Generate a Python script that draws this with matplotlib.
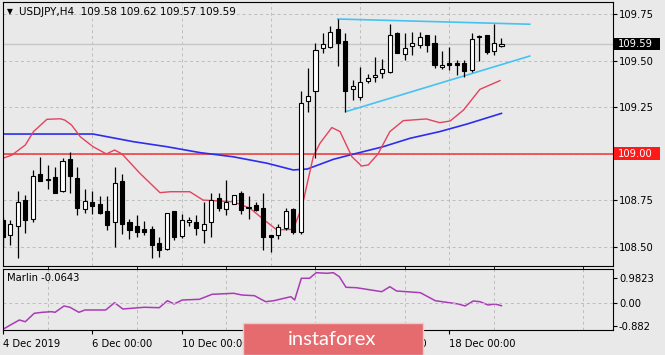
import matplotlib
matplotlib.use("Agg")
import matplotlib.pyplot as plt
import matplotlib.transforms as mtransforms
from matplotlib.patches import Rectangle

# USDJPY H4 candles (open, high, low, close), one per 4h bar from 4 Dec 2019
opens = [108.643, 108.560, 108.610, 108.750, 108.648, 108.890, 108.860, 108.873, 108.800, 108.970,
         108.870, 108.700, 108.742, 108.730, 108.693, 108.630, 108.850, 108.630, 108.610, 108.593,
         108.593, 108.520, 108.487, 108.690, 108.559, 108.630, 108.630, 108.590, 108.630, 108.760,
         108.702, 108.730, 108.790, 108.710, 108.724, 108.710, 108.560, 108.563, 108.600, 108.700,
         108.580, 109.284, 109.338, 109.566, 109.574, 109.668, 109.607, 109.345, 109.306, 109.392,
         109.410, 109.435, 109.440, 109.650, 109.535, 109.578, 109.583, 109.637, 109.596, 109.464,
         109.485, 109.485, 109.485, 109.449, 109.625, 109.637, 109.553, 109.580]
highs = [108.660, 108.645, 108.800, 108.777, 108.912, 108.980, 108.940, 108.930, 108.976, 109.010,
         108.930, 108.810, 108.800, 108.770, 108.770, 108.930, 108.890, 108.650, 108.670, 108.640,
         108.610, 108.550, 108.680, 108.690, 108.674, 108.660, 108.670, 108.740, 108.790, 108.790,
         108.860, 108.780, 108.800, 108.770, 108.740, 108.790, 108.560, 108.620, 108.710, 108.710,
         109.336, 109.460, 109.596, 109.646, 109.686, 109.723, 109.646, 109.395, 109.467, 109.428,
         109.517, 109.506, 109.696, 109.655, 109.646, 109.655, 109.655, 109.637, 109.637, 109.553,
         109.574, 109.503, 109.503, 109.646, 109.637, 109.637, 109.696, 109.620]
lows = [108.500, 108.510, 108.440, 108.573, 108.632, 108.850, 108.810, 108.790, 108.795, 108.790,
        108.670, 108.680, 108.675, 108.675, 108.590, 108.500, 108.570, 108.540, 108.550, 108.560,
        108.440, 108.446, 108.482, 108.536, 108.545, 108.610, 108.560, 108.520, 108.550, 108.690,
        108.670, 108.730, 108.675, 108.650, 108.690, 108.480, 108.470, 108.540, 108.590, 108.570,
        108.570, 109.225, 108.975, 109.540, 109.566, 109.470, 109.225, 109.290, 109.288, 109.378,
        109.386, 109.404, 109.435, 109.542, 109.503, 109.530, 109.566, 109.547, 109.461, 109.453,
        109.449, 109.422, 109.413, 109.440, 109.500, 109.536, 109.530, 109.570]
closes = [108.553, 108.620, 108.740, 108.643, 108.880, 108.850, 108.862, 108.790, 108.960, 108.880,
          108.710, 108.746, 108.718, 108.680, 108.616, 108.840, 108.620, 108.590, 108.580, 108.580,
          108.510, 108.480, 108.680, 108.550, 108.643, 108.643, 108.600, 108.620, 108.750, 108.710,
          108.740, 108.780, 108.697, 108.712, 108.697, 108.550, 108.550, 108.607, 108.690, 108.580,
          109.273, 109.310, 109.556, 109.587, 109.655, 109.596, 109.336, 109.363, 109.386, 109.404,
          109.420, 109.455, 109.637, 109.542, 109.566, 109.592, 109.625, 109.583, 109.474, 109.476,
          109.476, 109.476, 109.444, 109.614, 109.630, 109.547, 109.592, 109.590]

# moving averages, read at bar positions
ma_fast_x = [0, 1.2, 3.0, 4.1, 5.9, 7.7, 8.3, 9.2, 10.4, 12.1, 13.9, 15.0, 16.0, 18.4, 21.1, 22.5,
             25.1, 26.9, 31.0, 33.2, 35.4, 36.8, 39.0, 40.2, 41.7, 42.6, 44.2, 45.3, 46.9, 48.2,
             49.1, 50.4, 52.0, 53.8, 56.9, 58.7, 60.1, 61.9, 64.1, 66.8]
ma_fast = [108.975, 108.992, 109.046, 109.118, 109.184, 109.187, 109.180, 109.154, 109.090, 109.037,
           108.998, 109.019, 108.998, 108.894, 108.790, 108.795, 108.795, 108.750, 108.741, 108.706,
           108.634, 108.590, 108.593, 108.715, 108.983, 109.055, 109.140, 109.118, 108.983, 108.933,
           108.939, 108.998, 109.118, 109.177, 109.186, 109.166, 109.175, 109.234, 109.345, 109.392]
ma_slow_x = [-0.4, 7.7, 12.1, 17.5, 22.0, 26.5, 30.9, 35.5, 39.0, 40.9, 44.4, 46.6, 51.1, 54.7,
             58.7, 62.4, 67.0]
ma_slow = [109.105, 109.105, 109.105, 109.064, 109.037, 109.005, 108.983, 108.948, 108.912, 108.917,
           108.969, 108.992, 109.037, 109.082, 109.118, 109.159, 109.216]

# Marlin oscillator
marlin_x = [0, 1.0, 2.2, 3.0, 4.2, 5.3, 6.5, 7.0, 8.2, 9.0, 10.2, 11.0, 13.8, 15.0, 16.1, 19.0,
            21.0, 22.1, 23.0, 24.1, 26.4, 28.1, 31.0, 32.1, 33.8, 35.3, 36.4, 38.7, 39.2, 40.1,
            41.2, 42.1, 43.5, 44.4, 45.2, 46.1, 47.5, 50.9, 52.0, 52.9, 56.1, 58.1, 61.2, 62.1,
            63.2, 64.1, 65.2, 66.1, 67.0]
marlin = [-1.010, -0.844, -0.651, -0.717, -0.392, -0.354, -0.330, -0.354, -0.110, -0.160, -0.354,
          -0.265, -0.265, 0.017, -0.226, -0.160, -0.176, 0.094, -0.033, 0.121, 0.148, 0.341, 0.380,
          0.314, 0.287, 0.056, 0.094, 0.249, 0.121, 0.959, 0.959, 1.175, 1.152, 1.175, 1.021, 0.612,
          0.596, 0.442, 0.635, 0.469, 0.403, 0.094, -0.033, -0.110, 0.083, 0.056, -0.072, -0.033,
          -0.099]

# triangle trend lines (bar, price)
upper_line = ([45.0, 70.8], [109.723, 109.695])
lower_line = ([46.06, 70.8], [109.225, 109.524])

level = 109.00
bid = 109.59
price_ticks = [108.50, 108.75, 109.00, 109.25, 109.50, 109.75]
date_ticks = [0, 12, 24, 36, 48, 60]
# the 12 Dec label sits fully under the watermark, 16 Dec only shows its last digit
date_labels = ["4 Dec 2019", "6 Dec 00:00", "10 Dec 00:00", "", "16 Dec 00:00", "18 Dec 00:00"]

bg = "#e9e9e9"
fs = 7.2
plt.rcParams["font.family"] = "DejaVu Sans"

W, H = 665, 355
fig = plt.figure(figsize=(W / 100, H / 100), dpi=100, facecolor=bg)

def box(x0, y0, x1, y1):
    # pixel box (top-left origin) -> figure fraction
    return [x0 / W, 1 - y1 / H, (x1 - x0) / W, (y1 - y0) / H]

ax = fig.add_axes(box(2.7, 1.7, 612.7, 265.7), facecolor=bg)
ax2 = fig.add_axes(box(2.7, 269.3, 612.7, 330.3), facecolor=bg, sharex=ax)

xlim = (-0.04, 81.95)
grid_kw = dict(color="#bdbdbd", lw=0.7, ls=(0, (3, 3)))

# ---- main panel
ax.set_xlim(*xlim)
ax.set_ylim(108.3975, 109.816)
ax.set_xticks(range(6, 82, 6))
ax.tick_params(axis="x", length=0, labelbottom=False)
ax.yaxis.tick_right()
ax.set_yticks(price_ticks)
ax.set_yticklabels([f"{p:.2f}" for p in price_ticks])
ax.tick_params(axis="y", direction="out", length=3, width=0.8, pad=1.5, labelsize=fs)
ax.grid(True, **grid_kw)
ax.set_axisbelow(True)

ax.axhline(bid, color="#c6c6c6", lw=1.0, zorder=1)
ax.axhline(level, color="#f04040", lw=1.2, zorder=2)
ax.plot(ma_slow_x, ma_slow, color="#2d2df0", lw=1.2, zorder=2)
ax.plot(ma_fast_x, ma_fast, color="#e4425e", lw=1.0, zorder=2)
ax.plot(*upper_line, color="#45c3f2", lw=1.2, zorder=2)
ax.plot(*lower_line, color="#45c3f2", lw=1.2, zorder=2)

for i, (o, h, l, c) in enumerate(zip(opens, highs, lows, closes)):
    ax.vlines(i, l, h, color="black", lw=0.9, zorder=3)
    bottom = min(o, c)
    height = max(abs(c - o), 0.002)
    ax.bar(i, height, bottom=bottom, width=0.55, color="white" if c >= o else "black",
           edgecolor="black", linewidth=0.8, zorder=4)

# price flags on the right axis
tr = mtransforms.blended_transform_factory(fig.transFigure, ax.transData)
for price, col in [(bid, "black"), (level, "#ff1a1a")]:
    ax.add_patch(Rectangle((614 / W, price - 0.033), 46 / W, 0.066, transform=tr,
                           facecolor=col, edgecolor="none", clip_on=False, zorder=5))
    ax.text(617.5 / W, price, f"{price:.2f}", transform=tr, color="white", fontsize=fs,
            va="center", ha="left", zorder=6)

fig.text(7 / W, 1 - 12 / H, "\u25bc", fontsize=5.5, va="center", ha="left")
fig.text(19 / W, 1 - 12 / H, "USDJPY,H4  109.58 109.62 109.57 109.59", fontsize=fs + 0.3,
         va="center", ha="left")

# ---- Marlin panel
ax2.set_ylim(-1.0486, 1.306)
ax2.plot(marlin_x, marlin, color="#a83cb6", lw=1.1)
ax2.axhline(0, **grid_kw)
ax2.set_xticks(date_ticks)
ax2.set_xticklabels(date_labels)
ax2.set_xticks(range(6, 82, 12), minor=True)
ax2.grid(True, which="minor", axis="x", **grid_kw)
ax2.tick_params(axis="x", which="minor", length=0)
ax2.tick_params(axis="x", which="major", direction="out", length=3, width=0.8, pad=3,
                labelsize=fs)
for lab in ax2.get_xticklabels():
    lab.set_ha("left")
ax2.yaxis.tick_right()
ax2.set_yticks([0.9823, 0.0, -0.882])
ax2.set_yticklabels(["0.9823", "0.00", "-0.882"])
ax2.tick_params(axis="y", direction="out", length=3, width=0.8, pad=1.5, labelsize=fs)
ax2.set_xlim(*xlim)
ax2.text(6.7 / W, 1 - 278 / H, "Marlin -0.0643", transform=fig.transFigure, fontsize=fs,
         va="center", ha="left")

for a in (ax, ax2):
    for s in a.spines.values():
        s.set_linewidth(0.8)

# only the tail of the 16 Dec label peeks out from behind the watermark
clip = mtransforms.Bbox.from_extents(423, 0, W, H)
fig.canvas.draw()
ax2.get_xticklabels()[4].set_clip_box(clip)
ax2.get_xticklabels()[4].set_clip_on(True)

# watermark
fig.patches.append(Rectangle((243.3 / W, 0), 179.4 / W, 1 - 323.3 / H, transform=fig.transFigure,
                             facecolor="#e56b6e", edgecolor="#f2c8c8", linewidth=1, zorder=10))
fig.text(332 / W, 1 - 339.5 / H, "instaforex", color="white", fontsize=14.5, family="Lato",
         ha="center", va="center", zorder=11)

fig.savefig("out.png", dpi=100, facecolor=bg)
